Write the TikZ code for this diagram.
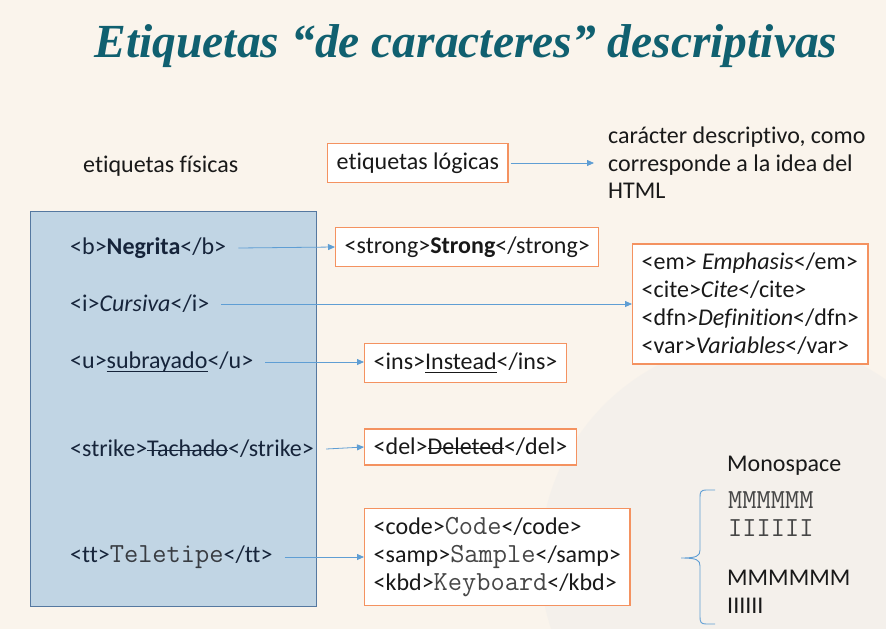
\documentclass[tikz,border=0pt]{standalone}
\usepackage{fontspec}
\setmainfont{Carlito}[Ligatures=NoCommon]
\newfontfamily\titlef{Liberation Serif}
\usetikzlibrary{arrows.meta}
% typewriter face, sized to the width of the body text's monospace
\newcommand\monof{\ttfamily\fontsize{27.6}{28}\selectfont}
\newsavebox\markbox
% strike-through and underline drawn with rules of the word's width
\newcommand\strk[1]{\sbox\markbox{#1}\rlap{\rule[0.24em]{\wd\markbox}{0.065em}}\usebox\markbox}
\newcommand\undl[1]{\sbox\markbox{#1}\rlap{\rule[-0.16em]{\wd\markbox}{0.065em}}\usebox\markbox}
\definecolor{paper}{RGB}{250,244,236}
\definecolor{titleteal}{RGB}{16,96,112}
\definecolor{panelblue}{RGB}{187,210,228}
\definecolor{panelline}{RGB}{85,120,160}
\definecolor{boxorange}{RGB}{244,146,96}
\definecolor{linkblue}{RGB}{95,158,212}
\definecolor{ink}{RGB}{25,25,25}
\definecolor{monoink}{RGB}{70,70,70}
\definecolor{panelink}{RGB}{22,36,58}
\tikzset{
  txt/.style={font=\fontsize{24}{28}\selectfont, text=ink, inner sep=0pt},
  paneltxt/.style={txt, text=panelink, anchor=west},
  tagbox/.style={txt, draw=boxorange, line width=1.4pt, fill=white, inner xsep=9pt, inner ysep=9pt},
  link/.style={draw=linkblue, line width=0.8pt, -{Triangle[length=7pt,width=6pt]}},
}
\begin{document}
\begin{tikzpicture}[x=1pt,y=-1pt]
\fill[paper] (0,0) rectangle (886,629);
\useasboundingbox (0,0) rectangle (886,629);
\fill[black!8,opacity=0.35] (760,560) circle (220);

% title
\node[font=\titlef\fontsize{47.5}{50}\selectfont\bfseries\itshape, text=titleteal, inner sep=0pt] (title) at (466,46) {Etiquetas “de caracteres” descriptivas};

% physical tags panel
\node[txt, anchor=west] (fis) at (83,166) {etiquetas físicas};
\draw[panelline, fill=panelblue, fill opacity=0.9, line width=0.9pt] (30,211) rectangle (316,606);
\node[paneltxt] (b) at (70,248) {<b>\textbf{Negrita}</b>};
\node[paneltxt] (i) at (70,304) {<i>\textit{Cursiva}</i>};
\node[paneltxt] (u) at (70,362) {<u>\undl{subrayado}</u>};
\node[paneltxt] (s) at (70,449) {<strike>\strk{Tachado}</strike>};
\node[paneltxt] (tt) at (70,557) {<tt>{\monof\color{monoink!70!panelink}Teletipe}</tt>};

% logical tags
\node[tagbox, anchor=west] (log) at (327,163) {etiquetas lógicas};
\node[txt, anchor=west, align=left, font=\fontsize{24}{27.5}\selectfont] (desc) at (608,163) {carácter descriptivo, como\\corresponde a la idea del\\HTML};
\node[tagbox, anchor=west] (strong) at (335,247) {<strong>\textbf{Strong}</strong>};
\node[tagbox, anchor=west, align=left, font=\fontsize{24}{28}\selectfont] (em) at (632,304) {<em> \textit{Emphasis}</em>\\<cite>\textit{Cite}</cite>\\<dfn>\textit{Definition}</dfn>\\<var>\textit{Variables}</var>};
\node[tagbox, anchor=west] (ins) at (364,363) {<ins>\undl{Instead}</ins>};
\node[tagbox, anchor=west] (del) at (364,447) {<del>\strk{Deleted}</del>};
\node[tagbox, anchor=west, align=left, font=\fontsize{24}{28}\selectfont] (code) at (364,557) {<code>{\monof\color{monoink}Code}</code>\\<samp>{\monof\color{monoink}Sample}</samp>\\<kbd>{\monof\color{monoink}Keyboard}</kbd>};

% links
\coordinate (l1) at (594,163);
\draw[link] ([xshift=2pt]log.east) -- (l1);
\draw[link] ([xshift=12pt]b.east) -- (strong.west);
\draw[link] ([xshift=12pt]i.east) -- (i.east -| em.west);
\draw[link] ([xshift=12pt]u.east) -- (u.east -| ins.west);
\draw[link] ([xshift=12pt]s.east) -- (del.west);
\draw[link] ([xshift=12pt]tt.east) -- (tt.east -| code.west);

% monospace comparison
\node[txt, anchor=west] (mono) at (727,466) {Monospace};
\draw[linkblue, line width=0.9pt]
  (715,490) -- (706,490) .. controls (701,490) and (700,492) .. (700,497)
  -- (700,550) .. controls (700,556) and (697,558) .. (681,558)
  .. controls (697,558) and (700,560) .. (700,566)
  -- (700,617) .. controls (700,622) and (701,624) .. (706,624) -- (715,624);
\node[txt, anchor=west, text=monoink] (m1) at (728,500) {\monof MMMMMM};
\node[txt, anchor=west, text=monoink] (i1) at (728,528) {\monof IIIIII};
\node[txt, anchor=west] (m2) at (727,578) {MMMMMM};
\node[txt, anchor=west] (i2) at (727,606) {IIIIII};
\end{tikzpicture}
\end{document}
